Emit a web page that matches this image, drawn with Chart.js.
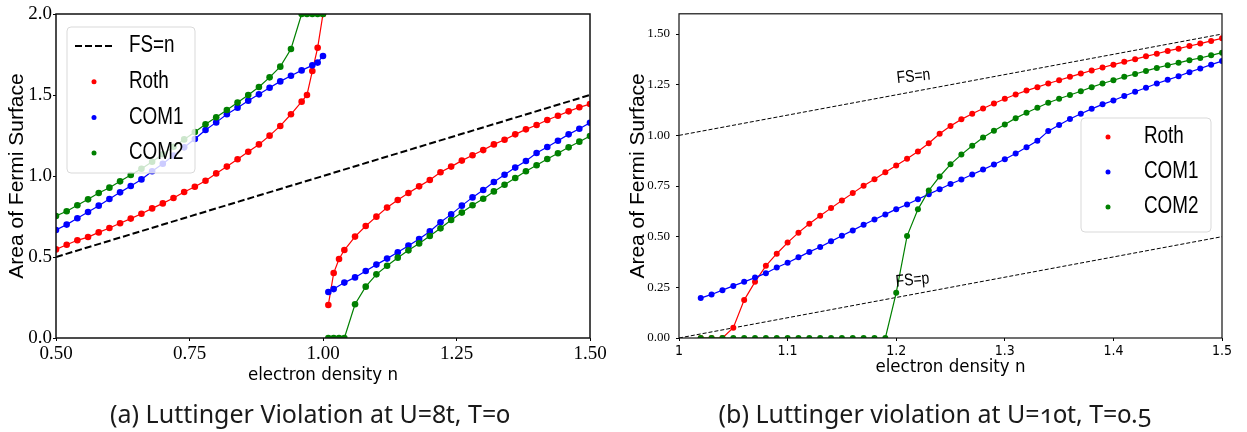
<!DOCTYPE html>
<html lang="en">
<head>
  <meta charset="UTF-8">
  <title>Luttinger violation</title>
  <script src="https://cdn.jsdelivr.net/npm/chart.js"></script>
  <style>
    body {
      margin: 0;
      width: 1247px;
      height: 432px;
      background: #fff;
      position: relative;
      overflow: hidden;
    }
    .panel {
      position: absolute;
      top: 0;
      height: 400px;
    }
    #panelA { left: 0; width: 610px; }
    #panelB { left: 620px; width: 627px; }
    .caption {
      position: absolute;
      top: 401px;
      font-family: "Noto Sans", "Open Sans", sans-serif;
      font-size: 25px;
      line-height: 1;
      color: #1a1a1a;
      white-space: nowrap;
      transform: translateX(-50%);
      font-variant-numeric: oldstyle-nums;
    }
  </style>
</head>
<body>
  <div class="panel" id="panelA"><canvas id="chartA"></canvas></div>
  <div class="panel" id="panelB"><canvas id="chartB"></canvas></div>
  <div class="caption" style="left:310px">(a) Luttinger Violation at U=8t, T=0</div>
  <div class="caption" style="left:935px">(b) Luttinger violation at U=10t, T=0.5</div>

  <script>
    // ---- (a) U=8t, T=0 : branch up to n=1
    const rothA_n1 = [0.50, 0.52, 0.54, 0.56, 0.58, 0.60, 0.62, 0.64, 0.66, 0.68, 0.70, 0.72, 0.74, 0.76, 0.78, 0.80, 0.82, 0.84, 0.86, 0.88, 0.90, 0.92, 0.94, 0.96, 0.97, 0.98, 0.99, 1.00];
    const rothA_v1 = [0.547, 0.576, 0.603, 0.623, 0.652, 0.679, 0.708, 0.737, 0.767, 0.800, 0.831, 0.864, 0.901, 0.934, 0.971, 1.016, 1.058, 1.103, 1.150, 1.195, 1.249, 1.309, 1.381, 1.459, 1.500, 1.648, 1.792, 2.0];
    const com1A_n1 = [0.50, 0.52, 0.54, 0.56, 0.58, 0.60, 0.62, 0.64, 0.66, 0.68, 0.70, 0.72, 0.74, 0.76, 0.78, 0.80, 0.82, 0.84, 0.86, 0.88, 0.90, 0.92, 0.94, 0.96, 0.98, 0.99, 1.00];
    const com1A_v1 = [0.667, 0.700, 0.739, 0.778, 0.817, 0.858, 0.899, 0.938, 0.979, 1.029, 1.076, 1.126, 1.177, 1.228, 1.284, 1.331, 1.381, 1.422, 1.465, 1.504, 1.545, 1.584, 1.619, 1.652, 1.683, 1.700, 1.741];
    const com2A_n1 = [0.50, 0.52, 0.54, 0.56, 0.58, 0.60, 0.62, 0.64, 0.66, 0.68, 0.70, 0.72, 0.74, 0.76, 0.78, 0.80, 0.82, 0.84, 0.86, 0.88, 0.90, 0.92, 0.94, 0.96, 0.97, 0.98, 0.99, 1.00];
    const com2A_v1 = [0.753, 0.782, 0.819, 0.856, 0.895, 0.928, 0.967, 1.006, 1.045, 1.088, 1.134, 1.181, 1.226, 1.272, 1.319, 1.362, 1.407, 1.453, 1.500, 1.549, 1.609, 1.675, 1.784, 2.0, 2.0, 2.0, 2.0, 2.0];

    // ---- (a) branch above n=1
    const rothA_n2 = [1.01, 1.02, 1.03, 1.04, 1.06, 1.08, 1.10, 1.12, 1.14, 1.16, 1.18, 1.20, 1.22, 1.24, 1.26, 1.28, 1.30, 1.32, 1.34, 1.36, 1.38, 1.40, 1.42, 1.44, 1.46, 1.48, 1.50];
    const rothA_v2 = [0.204, 0.401, 0.488, 0.543, 0.626, 0.691, 0.749, 0.805, 0.852, 0.895, 0.936, 0.975, 1.023, 1.058, 1.095, 1.128, 1.160, 1.195, 1.224, 1.257, 1.288, 1.315, 1.346, 1.372, 1.399, 1.424, 1.444];
    const com1A_n2 = [1.01, 1.02, 1.04, 1.06, 1.08, 1.10, 1.12, 1.14, 1.16, 1.18, 1.20, 1.22, 1.24, 1.26, 1.28, 1.30, 1.32, 1.34, 1.36, 1.38, 1.40, 1.42, 1.44, 1.46, 1.48, 1.50];
    const com1A_v2 = [0.284, 0.302, 0.342, 0.374, 0.414, 0.453, 0.490, 0.529, 0.570, 0.611, 0.658, 0.714, 0.763, 0.817, 0.868, 0.914, 0.963, 1.008, 1.052, 1.093, 1.142, 1.179, 1.218, 1.257, 1.292, 1.329];
    const com2A_n2 = [1.01, 1.02, 1.03, 1.04, 1.06, 1.08, 1.10, 1.12, 1.14, 1.16, 1.18, 1.20, 1.22, 1.24, 1.26, 1.28, 1.30, 1.32, 1.34, 1.36, 1.38, 1.40, 1.42, 1.44, 1.46, 1.48, 1.50];
    const com2A_v2 = [0, 0, 0, 0, 0.208, 0.317, 0.393, 0.446, 0.496, 0.541, 0.584, 0.630, 0.677, 0.728, 0.774, 0.819, 0.860, 0.905, 0.946, 0.988, 1.029, 1.066, 1.105, 1.140, 1.177, 1.212, 1.247];

    const fsA_n = [0.5, 1.5];
    const fsA_v = [0.5, 1.5];
    const ticksA_x = [0.50, 0.75, 1.00, 1.25, 1.50];
    const ticksA_y = [0.0, 0.5, 1.0, 1.5, 2.0];

    // ---- (b) U=10t, T=0.5
    const densB = [1.02, 1.03, 1.04, 1.05, 1.06, 1.07, 1.08, 1.09, 1.10, 1.11, 1.12, 1.13, 1.14, 1.15, 1.16, 1.17, 1.18, 1.19, 1.20, 1.21, 1.22, 1.23, 1.24, 1.25, 1.26, 1.27, 1.28, 1.29, 1.30, 1.31, 1.32, 1.33, 1.34, 1.35, 1.36, 1.37, 1.38, 1.39, 1.40, 1.41, 1.42, 1.43, 1.44, 1.45, 1.46, 1.47, 1.48, 1.49, 1.50];
    const rothB = [0, 0, 0, 0.051, 0.187, 0.277, 0.356, 0.416, 0.471, 0.520, 0.564, 0.603, 0.641, 0.679, 0.715, 0.751, 0.784, 0.818, 0.851, 0.885, 0.920, 0.961, 1.008, 1.046, 1.079, 1.107, 1.133, 1.157, 1.181, 1.202, 1.221, 1.238, 1.256, 1.272, 1.289, 1.305, 1.320, 1.335, 1.349, 1.363, 1.376, 1.390, 1.403, 1.417, 1.428, 1.441, 1.453, 1.466, 1.479];
    const com1B = [0.197, 0.215, 0.236, 0.257, 0.277, 0.298, 0.320, 0.348, 0.371, 0.398, 0.425, 0.449, 0.477, 0.505, 0.531, 0.559, 0.585, 0.610, 0.636, 0.659, 0.685, 0.710, 0.734, 0.760, 0.782, 0.807, 0.831, 0.856, 0.882, 0.911, 0.941, 0.974, 1.021, 1.051, 1.081, 1.107, 1.131, 1.153, 1.172, 1.194, 1.215, 1.235, 1.256, 1.274, 1.292, 1.312, 1.330, 1.349, 1.367];
    const com2B = [0, 0, 0, 0, 0, 0, 0, 0, 0, 0, 0, 0, 0, 0, 0, 0, 0, 0, 0.223, 0.503, 0.635, 0.728, 0.797, 0.857, 0.905, 0.949, 0.990, 1.023, 1.054, 1.085, 1.112, 1.136, 1.161, 1.181, 1.199, 1.218, 1.238, 1.256, 1.272, 1.289, 1.303, 1.318, 1.333, 1.346, 1.358, 1.371, 1.382, 1.395, 1.408];

    const fsB_n = [1.0, 1.5];
    const fsnB_v = [1.0, 1.5];
    const fspB_v = [0.0, 0.5];
    const ticksB_x = [1.0, 1.1, 1.2, 1.3, 1.4, 1.5];
    const ticksB_y = [0.0, 0.25, 0.5, 0.75, 1.0, 1.25, 1.5];

    const RED = '#ff0000';
    const BLUE = '#0000ff';
    const GREEN = '#008000';
    const COND = "'DejaVu Sans Condensed', 'Liberation Sans', sans-serif";
    const SERIF = "'Liberation Serif', 'DejaVu Serif', serif";
    const SQUEEZE = 0.82;   // the figure's sans text is narrow

    function pts(xs, ys) {
      return xs.map((x, i) => ({ x: x, y: ys[i] }));
    }

    function narrowText(ctx, text, x, y, angle) {
      ctx.save();
      ctx.translate(x, y);
      if (angle) ctx.rotate(angle * Math.PI / 180);
      ctx.scale(SQUEEZE, 1);
      ctx.fillText(text, 0, 0);
      ctx.restore();
    }

    // matplotlib-like frame round the plot area
    const frame = {
      id: 'frame',
      afterDraw(chart, args, opts) {
        const { ctx, chartArea: a } = chart;
        ctx.save();
        ctx.strokeStyle = '#111';
        ctx.lineWidth = opts.width || 1.2;
        ctx.strokeRect(a.left, a.top, a.right - a.left, a.bottom - a.top);
        ctx.restore();
      }
    };

    // legend drawn inside the axes with a translucent box
    const boxLegend = {
      id: 'boxLegend',
      afterDatasetsDraw(chart, args, opts) {
        const ctx = chart.ctx;
        const items = chart.data.datasets.filter(d => d.legend);
        ctx.save();
        ctx.beginPath();
        ctx.roundRect(opts.left, opts.top, opts.width, opts.height, 4);
        ctx.fillStyle = 'rgba(255,255,255,0.8)';
        ctx.fill();
        ctx.strokeStyle = '#d9d9d9';
        ctx.lineWidth = 1;
        ctx.stroke();
        ctx.font = opts.font;
        ctx.textBaseline = 'middle';
        items.forEach((d, i) => {
          const y = opts.top + opts.firstRow + i * opts.rowGap;
          if (d.legend === 'line') {
            ctx.strokeStyle = d.borderColor;
            ctx.lineWidth = d.borderWidth;
            ctx.setLineDash(d.borderDash || []);
            ctx.beginPath();
            ctx.moveTo(opts.markX - 19, y);
            ctx.lineTo(opts.markX + 19, y);
            ctx.stroke();
            ctx.setLineDash([]);
          } else {
            ctx.fillStyle = d.borderColor;
            ctx.beginPath();
            ctx.arc(opts.markX, y, opts.dot, 0, 2 * Math.PI);
            ctx.fill();
          }
          ctx.fillStyle = '#000';
          narrowText(ctx, d.label, opts.textX, y, 0);
        });
        ctx.restore();
      }
    };

    // labels sitting on the dashed reference lines
    const lineText = {
      id: 'lineText',
      afterDatasetsDraw(chart, args, opts) {
        if (!opts.items) return;
        const ctx = chart.ctx;
        ctx.save();
        ctx.font = opts.font;
        ctx.fillStyle = '#000';
        ctx.textAlign = 'center';
        ctx.textBaseline = 'middle';
        opts.items.forEach(t => {
          const x = chart.scales.x.getPixelForValue(t.x);
          const y = chart.scales.y.getPixelForValue(t.y);
          narrowText(ctx, t.text, x, y, t.angle);
        });
        ctx.restore();
      }
    };

    function series(label, data, color, order, legend, radius) {
      return {
        label: label,
        data: data,
        borderColor: color,
        backgroundColor: color,
        borderWidth: 1.2,
        pointRadius: radius,
        pointBorderWidth: 0,
        pointBackgroundColor: color,
        pointHoverRadius: radius,
        tension: 0,
        order: order,
        legend: legend
      };
    }

    function dashed(label, data, width, dash, legend) {
      return {
        label: label,
        data: data,
        borderColor: '#000',
        borderWidth: width,
        borderDash: dash,
        pointRadius: 0,
        tension: 0,
        order: 9,
        legend: legend
      };
    }

    function axis(min, max, tickVals, fmt, tickFont, tickLen, tickPad, size, title, titleFont, titlePad) {
      return {
        type: 'linear',
        min: min,
        max: max,
        afterBuildTicks: s => { s.ticks = tickVals.map(v => ({ value: v })); },
        afterFit: s => { if (s.isHorizontal()) s.height = size; else s.width = size; },
        grid: { drawOnChartArea: false, tickLength: tickLen, color: '#000' },
        border: { display: false },
        ticks: {
          color: '#000',
          padding: tickPad,
          font: tickFont,
          maxRotation: 0,
          autoSkip: false,
          callback: v => fmt(v)
        },
        title: {
          display: true,
          text: title,
          color: '#000',
          font: titleFont,
          padding: titlePad
        }
      };
    }

    new Chart(document.getElementById('chartA'), {
      type: 'line',
      data: {
        datasets: [
          dashed('FS=n', pts(fsA_n, fsA_v), 2, [7, 3], 'line'),
          series('Roth', pts(rothA_n1, rothA_v1), RED, 3, 'dot', 3.3),
          series('COM1', pts(com1A_n1, com1A_v1), BLUE, 2, 'dot', 3.3),
          series('COM2', pts(com2A_n1, com2A_v1), GREEN, 1, 'dot', 3.3),
          series('Roth', pts(rothA_n2, rothA_v2), RED, 3, null, 3.3),
          series('COM1', pts(com1A_n2, com1A_v2), BLUE, 2, null, 3.3),
          series('COM2', pts(com2A_n2, com2A_v2), GREEN, 1, null, 3.3)
        ]
      },
      options: {
        responsive: true,
        maintainAspectRatio: false,
        animation: false,
        layout: { padding: { left: 0, right: 20, top: 14, bottom: 0 } },
        scales: {
          x: axis(0.5, 1.5, ticksA_x, v => v.toFixed(2), { family: SERIF, size: 19 }, 3, 2, 62,
            'electron density n', { family: COND, size: 18.5 }, { top: 0, bottom: 14 }),
          y: axis(0, 2, ticksA_y, v => v.toFixed(1), { family: SERIF, size: 19 }, 3, 1, 56,
            'Area of Fermi Surface', { family: 'Liberation Sans', size: 21 }, { top: 5, bottom: 0 })
        },
        plugins: {
          legend: { display: false },
          tooltip: { enabled: false },
          frame: { width: 1.5 },
          boxLegend: {
            left: 67, top: 27, width: 128, height: 146,
            firstRow: 19, rowGap: 35.7, markX: 94, textX: 129, dot: 2.5,
            font: "23px 'Liberation Sans', sans-serif"
          }
        }
      },
      plugins: [frame, boxLegend, lineText]
    });

    new Chart(document.getElementById('chartB'), {
      type: 'line',
      data: {
        datasets: [
          dashed('FS=n', pts(fsB_n, fsnB_v), 1, [4, 2], null),
          dashed('FS=p', pts(fsB_n, fspB_v), 1, [4, 2], null),
          series('Roth', pts(densB, rothB), RED, 3, 'dot', 3),
          series('COM1', pts(densB, com1B), BLUE, 2, 'dot', 3),
          series('COM2', pts(densB, com2B), GREEN, 1, 'dot', 3)
        ]
      },
      options: {
        responsive: true,
        maintainAspectRatio: false,
        animation: false,
        layout: { padding: { left: 0, right: 25, top: 12, bottom: 0 } },
        scales: {
          x: axis(1.0, 1.5, ticksB_x, v => String(Number(v.toFixed(1))), { family: COND, size: 14 }, 3, 2, 62,
            'electron density n', { family: COND, size: 18.5 }, { top: 0, bottom: 22 }),
          y: axis(0, 1.6, ticksB_y, v => v.toFixed(2), { family: SERIF, size: 13 }, 3, 6, 59,
            'Area of Fermi Surface', { family: 'Liberation Sans', size: 21 }, { top: 6, bottom: 0 })
        },
        plugins: {
          legend: { display: false },
          tooltip: { enabled: false },
          frame: { width: 1.2 },
          boxLegend: {
            left: 461, top: 118, width: 130, height: 114,
            firstRow: 19, rowGap: 35, markX: 488, textX: 524, dot: 2.5,
            font: "23px 'Liberation Sans', sans-serif"
          },
          lineText: {
            font: "17px 'Liberation Sans', sans-serif",
            items: [
              { text: 'FS=n', x: 1.216, y: 1.29, angle: -6 },
              { text: 'FS=p', x: 1.215, y: 0.285, angle: -6 }
            ]
          }
        }
      },
      plugins: [frame, boxLegend, lineText]
    });
  </script>
</body>
</html>
